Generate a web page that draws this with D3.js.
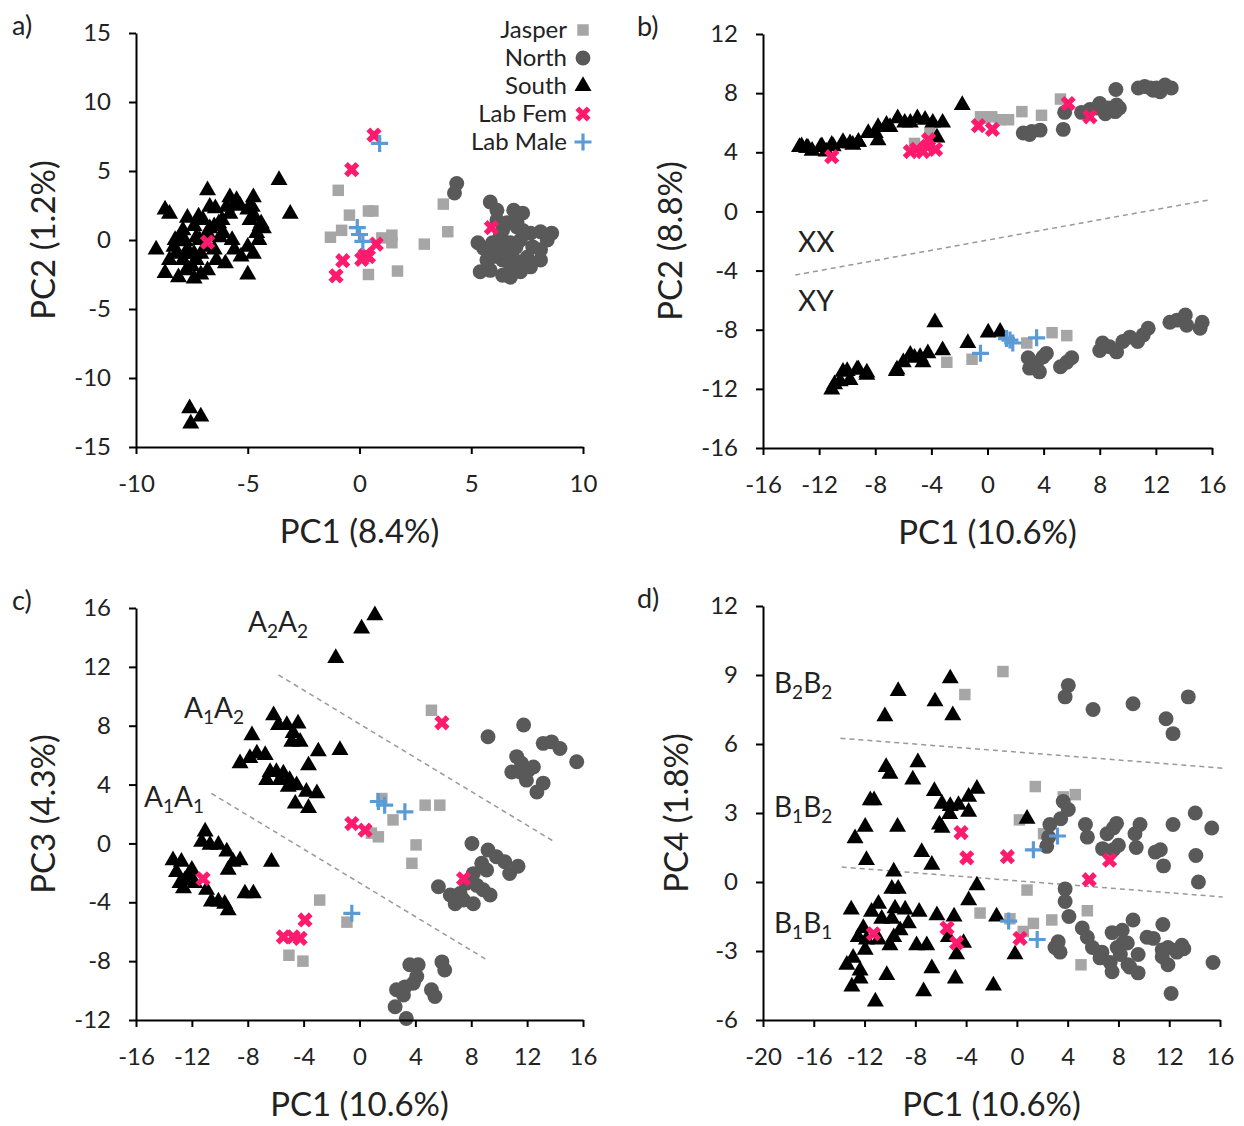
<!DOCTYPE html>
<html>
<head>
<meta charset="utf-8">
<script src="https://cdn.jsdelivr.net/npm/d3@7"></script>
<style>
  body { margin: 0; background: #fff; }
  text { font-family: Lato, "Liberation Sans", sans-serif; fill: #222; }
</style>
</head>
<body>
<div id="chart"></div>
<script>
// ---- panel a: PC1 (8.4%) vs PC2 (1.2%)
const aJasper = [[-0.95,3.6],[-0.45,1.8],[0.4,2.1],[0.6,2.1],[-0.8,0.7],[-1.3,0.2],[1.0,0.15],[1.45,0.35],[1.45,-0.2],[0.4,-2.5],[1.7,-2.25],[2.9,-0.3],[3.75,2.6],[3.95,0.6]];
const aNorth = [[4.35,4.1],[4.25,3.4],[5.85,2.75],[6.15,2.15],[6.9,2.15],[7.3,1.95],[7.05,1.3],[5.3,-0.2],[5.55,-0.6],[5.95,-0.2],[6.4,0],[6.75,-0.2],[7.2,0],[7.65,0.5],[8.1,0.6],[8.6,0.5],[8.4,0],[8.1,-0.7],[8.1,-1.45],[7.65,-1.95],[7.2,-2.3],[6.75,-2.7],[6.4,-2.55],[5.85,-2.2],[5.4,-2.3],[6.4,-1.45],[6.85,-1.2],[6.15,-0.95],[7.05,0.95],[7.3,0.7],[6.4,0.7],[6.6,1.25],[5.7,-1.45],[7.5,-1.25],[7.75,-0.5],[6.15,1.45],[6.75,-2.15],[7.2,-1.7],[6.5,-0.8],[7.0,-0.5],[6.0,-1.2],[6.9,-1.6],[6.3,0.3]];
const aSouth = [[-8.7,2.2],[-8.5,1.9],[-9.1,-0.7],[-6.8,3.6],[-7.7,1.6],[-7.2,1.7],[-7.9,0.7],[-7.4,1.0],[-8.0,0],[-8.3,-0.5],[-7.8,-0.1],[-7.3,0.2],[-8.5,-1.45],[-8.7,-2.4],[-8.1,-2.7],[-7.4,-2.8],[-7.1,-2.5],[-6.8,-2.2],[-7.7,-1.0],[-7.1,-1.0],[-6.5,-0.7],[-6.4,-1.45],[-6.0,-1.7],[-5.7,0],[-5.6,-0.7],[-5.3,-1.2],[-5.0,-0.5],[-5.0,-2.5],[-4.75,-1.0],[-4.6,0.5],[-4.45,1.0],[-4.7,1.7],[-4.75,3.1],[-4.8,2.4],[-5.0,2.2],[-5.35,2.5],[-5.8,3.1],[-5.95,2.4],[-5.5,2.9],[-6.7,2.4],[-6.45,2.3],[-6.3,1.2],[-6.15,1.45],[-6.1,0.5],[-6.25,0.2],[-6.5,1.0],[-6.8,0.5],[-7.9,-1.45],[-7.5,-1.9],[-7.3,-1.45],[-7.7,-0.7],[-8.2,-1.0],[-4.3,0.85],[-4.4,1.2],[-3.6,4.35],[-3.1,1.9],[-6.8,-0.5],[-7.15,0],[-7.0,1.45],[-6.7,0.85],[-5.8,1.9],[-5.6,2.5],[-4.9,1.45],[-4.5,0],[-7.75,-2.2],[-7.4,-1.0],[-8.25,0],[-7.6,-12.2],[-7.1,-12.8],[-7.55,-13.3]];
const aLabFem = [[0.65,7.6],[-0.35,5.1],[-0.75,-1.5],[-1.05,-2.6],[0.75,-0.3],[0.25,-1.1],[0.1,-1.4],[0.4,-1.2],[-6.8,-0.15],[5.9,0.9]];
const aLabMale = [[0.9,7.0],[-0.1,0.9],[0,0.4],[0.15,-0.1]];

// ---- panel b: PC1 (10.6%) vs PC2 (8.8%)
const bJasper = [[-5.2,4.6],[-4.1,5.3],[-0.5,6.4],[0.3,6.4],[0.9,6.2],[1.5,6.2],[2.45,6.75],[3.85,6.5],[5.2,7.6],[-0.2,6.3],[-2.9,-10.2],[-1.1,-10.0],[2.8,-8.9],[4.6,-8.2],[5.65,-8.4]];
const bNorth = [[2.55,5.3],[3.15,5.4],[3.75,5.5],[3.0,5.2],[5.4,5.55],[5.5,6.7],[6.7,6.7],[7.3,6.9],[8.0,7.3],[8.6,7.0],[9.2,7.2],[9.4,7.0],[9.1,6.75],[8.4,6.6],[7.8,7.0],[9.15,8.25],[10.75,8.35],[11.2,8.45],[11.8,8.2],[12.3,8.1],[12.65,8.55],[13.1,8.35],[11.6,8.35],[12.05,8.35],[3.0,-10.6],[3.5,-10.25],[3.95,-9.85],[4.2,-9.6],[3.7,-10.85],[5.2,-10.5],[5.65,-10.2],[6.0,-9.9],[8.0,-9.4],[8.2,-8.9],[8.7,-9.15],[9.2,-9.5],[9.65,-8.8],[10.15,-8.5],[10.7,-8.8],[11.1,-8.35],[11.45,-7.9],[13.0,-7.5],[13.5,-7.35],[14.1,-7.0],[14.2,-7.7],[15.3,-7.5],[15.15,-7.9],[2.9,-9.9]];
const bSouth = [[-13.4,4.35],[-12.8,4.3],[-11.9,4.35],[-11.1,4.5],[-10.3,4.7],[-9.8,4.6],[-9.2,4.7],[-8.5,5.3],[-8.0,5.3],[-7.8,5.7],[-7.2,5.85],[-6.4,6.3],[-5.9,6.0],[-5.0,6.3],[-4.45,6.2],[-3.9,6.0],[-3.2,6.0],[-3.6,5.0],[-1.8,7.2],[-7.8,4.8],[-6.95,5.7],[-5.5,6.0],[-13.25,4.4],[-12.9,4.3],[-12.5,4.1],[-11.8,4.4],[-11.0,4.4],[-10.3,4.6],[-9.6,4.5],[-9.2,4.7],[-11.5,4.05],[-11.1,-12.05],[-10.9,-11.7],[-10.3,-10.85],[-9.8,-11.4],[-9.2,-10.7],[-8.6,-10.9],[-10.5,-11.5],[-6.45,-10.7],[-6.0,-10.2],[-5.5,-9.7],[-5.2,-9.9],[-4.8,-9.85],[-4.25,-9.6],[-4.6,-10.2],[-3.75,-7.5],[-3.2,-9.4],[-1.4,-8.9],[0.05,-8.2],[0.9,-8.15],[-10.0,-10.8],[-9.3,-10.7],[-8.6,-11.05],[-6.5,-10.8]];
const bLabFem = [[-11.1,3.7],[-5.5,4.05],[-5.05,4.2],[-4.3,4.4],[-4.2,4.85],[-3.7,4.2],[-4.6,4.05],[-0.65,5.8],[0.35,5.55],[5.75,7.3],[7.3,6.4]];
const bLabMale = [[-0.5,-9.6],[1.35,-8.6],[1.6,-8.7],[1.8,-8.9],[3.5,-8.55]];
const bDivider = [[-13.7,-4.3],[15.9,0.8]];

// ---- panel c: PC1 (10.6%) vs PC3 (4.3%)
const cJasper = [[5.15,9.05],[1.6,3.05],[2.4,1.6],[1.35,0.45],[0.85,0.7],[4.7,2.6],[5.75,2.6],[4.05,-0.1],[3.75,-1.35],[-2.85,-3.85],[-0.9,-5.35],[-5.05,-7.6],[-4.05,-8.0]];
const cNorth = [[11.75,8.05],[9.2,7.25],[13.15,6.8],[13.75,6.9],[14.35,6.45],[15.55,5.55],[11.25,5.9],[10.9,4.85],[11.5,4.85],[12.1,5.0],[12.45,5.2],[11.95,4.3],[13.15,4.1],[12.7,3.5],[11.6,5.45],[8.05,0],[9.2,-0.45],[9.8,-0.9],[10.4,-1.25],[11.35,-1.55],[10.75,-2.05],[8.75,-1.35],[9.1,-1.8],[8.15,-2.05],[7.65,-2.7],[5.65,-2.95],[6.5,-3.5],[6.85,-4.1],[7.45,-3.85],[8.15,-4.1],[8.85,-3.15],[9.35,-3.5],[7.2,-3.4],[8.4,-2.85],[3.6,-8.25],[4.2,-8.25],[4.1,-9.05],[3.25,-9.75],[2.65,-9.95],[3.15,-10.3],[2.55,-11.1],[3.35,-11.9],[5.9,-8.05],[6.1,-8.6],[5.15,-9.95],[5.4,-10.4],[3.85,-9.5]];
const cSouth = [[1.1,15.5],[0.15,14.6],[-1.7,12.6],[-6.15,8.7],[-5.8,8.05],[-5.2,8.05],[-4.4,8.15],[-4.75,7.5],[-4.25,6.9],[-7.7,7.35],[-8.55,5.45],[-7.85,5.8],[-7.35,6.1],[-6.75,6.0],[-6.4,4.85],[-5.95,4.85],[-5.45,4.75],[-5.0,4.3],[-4.5,3.95],[-3.8,3.5],[-3.05,3.4],[-4.6,2.7],[-3.65,2.4],[-2.95,6.25],[-1.4,6.35],[-3.65,5.3],[-6.65,4.3],[-5.7,4.3],[-5.1,3.85],[-4.85,6.9],[-11.05,0.8],[-11.3,0.1],[-10.7,-0.1],[-10.1,-0.1],[-9.5,-0.55],[-9.05,-1.25],[-8.55,-1.15],[-9.4,-1.8],[-13.35,-1.15],[-12.75,-1.25],[-13.1,-1.95],[-12.85,-2.7],[-12.5,-2.5],[-12.0,-1.8],[-11.8,-2.7],[-10.95,-3.15],[-10.6,-3.95],[-10.1,-3.95],[-9.65,-4.1],[-9.4,-4.55],[-8.2,-3.4],[-7.6,-3.4],[-6.3,-1.25],[-12.25,-2.15],[-12.6,-3.05]];
const cLabFem = [[5.9,8.2],[-0.55,1.35],[0.4,0.9],[-11.2,-2.4],[-3.9,-5.2],[-5.45,-6.35],[-4.75,-6.35],[-4.25,-6.45],[7.45,-2.4]];
const cLabMale = [[1.35,2.85],[1.8,2.6],[3.25,2.15],[-0.55,-4.75]];
const cDividers = [[[-5.8,11.45],[13.8,0.2]], [[-10.6,3.4],[9.1,-7.9]]];

// ---- panel d: PC1 (10.6%) vs PC4 (1.8%)
const dJasper = [[-1.1,9.15],[-4.1,8.15],[1.45,4.15],[3.65,3.7],[4.6,3.8],[0.2,2.7],[2.1,2.1],[0.8,-0.35],[-2.9,-1.35],[-0.55,-1.6],[1.3,-1.8],[2.75,-1.65],[5.55,-1.25],[0.5,-2.15],[5.05,-3.6]];
const dNorth = [[4.05,8.55],[3.8,8.05],[6.0,7.5],[9.15,7.75],[11.75,7.1],[12.3,6.45],[13.5,8.05],[3.65,3.5],[4.05,3.15],[3.45,2.75],[2.6,2.5],[2.5,1.95],[2.35,1.55],[5.4,2.5],[5.55,1.95],[7.1,2.1],[7.6,2.35],[7.85,2.55],[6.75,1.45],[7.6,1.4],[8.0,1.6],[9.3,2.1],[9.7,2.5],[9.4,1.5],[10.9,1.3],[11.3,1.4],[11.55,0.7],[12.3,2.5],[14.05,3.0],[15.35,2.35],[14.1,1.15],[14.3,0],[3.8,-0.3],[3.8,-0.85],[4.1,-1.5],[5.15,-2.0],[5.55,-2.4],[5.95,-2.85],[6.7,-3.05],[6.55,-3.3],[7.35,-3.5],[7.5,-3.9],[7.5,-2.2],[8.3,-2.1],[9.15,-1.65],[8.35,-2.65],[8.7,-2.65],[7.9,-2.85],[8.15,-3.15],[8.75,-3.6],[9.55,-3.95],[9.55,-3.15],[10.25,-2.4],[10.75,-2.45],[11.45,-2.95],[11.5,-1.85],[11.9,-2.85],[11.9,-3.6],[12.6,-3.05],[13.0,-2.75],[11.45,-3.25],[15.45,-3.5],[12.15,-4.85],[3.25,-2.6],[3.4,-3.05],[3.0,-2.85],[8.9,-3.7],[12.6,-2.95],[13.15,-2.9]];
const dSouth = [[-5.25,8.85],[-9.35,8.3],[-6.45,7.85],[-10.4,7.2],[-5.05,7.25],[-10.3,5.0],[-10.0,4.7],[-7.8,5.2],[-8.2,4.45],[-6.5,3.95],[-5.9,3.4],[-5.25,3.3],[-4.6,3.35],[-3.8,3.7],[-3.15,4.05],[-3.8,3.05],[-5.3,2.95],[-6.1,2.5],[-5.9,2.35],[-11.55,3.55],[-11.25,3.55],[-11.95,2.4],[-12.75,1.9],[-9.4,2.4],[-11.85,0.95],[-7.5,1.3],[-6.7,0.75],[-9.7,0.45],[0.8,2.75],[-9.85,-0.3],[-9.35,-0.3],[-3.15,-0.15],[-3.8,-0.8],[-10.9,-0.95],[-13.05,-1.2],[-11.45,-1.3],[-10.65,-1.6],[-9.6,-1.15],[-8.8,-1.2],[-7.7,-1.3],[-9.85,-1.6],[-6.3,-1.45],[-4.95,-1.5],[-8.55,-1.8],[-12.5,-2.4],[-11.85,-2.5],[-10.9,-2.5],[-9.7,-2.4],[-10.0,-2.75],[-11.95,-2.95],[-7.9,-2.75],[-7.1,-2.75],[-5.4,-2.4],[-4.2,-2.65],[-4.75,-3.15],[-12.9,-3.3],[-13.4,-3.6],[-12.35,-3.85],[-12.35,-4.2],[-13.0,-4.55],[-10.25,-4.05],[-6.7,-3.75],[-4.85,-4.2],[-7.35,-4.75],[-11.15,-5.2],[-1.85,-4.5],[-0.15,-3.15],[-1.6,-1.5],[-12.1,-2.0],[-9.2,-2.1]];
const dLabFem = [[-4.4,2.15],[-3.95,1.05],[-0.75,1.1],[7.3,0.95],[5.7,0.1],[-11.3,-2.25],[-5.5,-2.0],[-4.75,-2.65],[0.25,-2.45]];
const dLabMale = [[3.2,2.0],[1.3,1.4],[-0.65,-1.7],[1.6,-2.5]];
const dDividers = [[[-13.9,6.25],[16.2,4.95]], [[-13.8,0.65],[16.2,-0.65]]];

const seriesNames = ['Jasper', 'North', 'South', 'Lab Fem', 'Lab Male'];

const width = 1244;
const height = 1126;

const svg = d3.select('#chart')
  .append('svg')
  .attr('width', width)
  .attr('height', height);

const styles = {
  'Jasper':   { fill: '#a6a6a6', sym: d3.symbol(d3.symbolSquare, 132)() },
  'North':    { fill: '#595959', sym: d3.symbol(d3.symbolCircle, 175)() },
  'South':    { fill: '#000000', sym: d3.symbol(d3.symbolTriangle, 125)() },
  'Lab Fem':  { fill: '#ff1a6e', sym: d3.symbol(d3.symbolCross, 145)(), rotate: 45 },
  'Lab Male': { stroke: '#5b9bd5', sym: 'M-8.5,0H8.5M0,-8.5V8.5' }
};

function marker(sel, name) {
  const s = styles[name];
  sel.attr('d', s.sym);
  if (s.stroke) sel.attr('fill', 'none').attr('stroke', s.stroke).attr('stroke-width', 3.2);
  else sel.attr('fill', s.fill);
}

function drawPanel(p) {
  const x = d3.scaleLinear().domain(p.xDomain).range([p.left, p.right]);
  const y = d3.scaleLinear().domain(p.yDomain).range([p.bottom, p.top]);
  const g = svg.append('g');

  // dashed dividers first, markers on top
  (p.dividers || []).forEach(l => {
    g.append('line')
      .attr('x1', x(l[0][0])).attr('y1', y(l[0][1]))
      .attr('x2', x(l[1][0])).attr('y2', y(l[1][1]))
      .attr('stroke', '#999').attr('stroke-width', 1.5)
      .attr('stroke-dasharray', '5,4');
  });

  p.series.forEach((data, i) => {
    const name = seriesNames[i];
    const rot = styles[name].rotate ? ` rotate(${styles[name].rotate})` : '';
    g.append('g').selectAll('path')
      .data(data)
      .join('path')
      .attr('transform', d => `translate(${x(d[0])},${y(d[1])})${rot}`)
      .call(marker, name);
  });

  const xAxis = g.append('g')
    .attr('transform', `translate(0,${p.bottom})`)
    .call(d3.axisBottom(x).tickValues(p.xTicks).tickFormat(d => String(d))
      .tickSizeInner(7).tickSizeOuter(0).tickPadding(21));
  const yAxis = g.append('g')
    .attr('transform', `translate(${p.left},0)`)
    .call(d3.axisLeft(y).tickValues(p.yTicks).tickFormat(d => String(d))
      .tickSizeInner(7).tickSizeOuter(0).tickPadding(18));
  [xAxis, yAxis].forEach(a => {
    a.attr('font-size', 24);
    a.selectAll('path, line').attr('stroke', '#000').attr('stroke-width', 2);
  });

  g.append('text')
    .attr('x', (p.left + p.right) / 2).attr('y', p.bottom + 96)
    .attr('text-anchor', 'middle').attr('font-size', 33)
    .text(p.xTitle);
  g.append('text')
    .attr('transform', `translate(${p.yTitleX},${(p.top + p.bottom) / 2}) rotate(-90)`)
    .attr('text-anchor', 'middle').attr('font-size', 33)
    .text(p.yTitle);
  g.append('text')
    .attr('x', p.letterX).attr('y', p.top + 2)
    .attr('font-size', 27)
    .text(p.letter);

  (p.labels || []).forEach(lb => {
    const t = g.append('text').attr('x', lb.x).attr('y', lb.y).attr('font-size', 28);
    lb.parts.forEach(part => {
      if (part.sub) {
        t.append('tspan').attr('font-size', 19).attr('dy', 6).text(part.t);
      } else {
        t.append('tspan').attr('dy', part.back ? -6 : 0).text(part.t);
      }
    });
  });

  return { x, y, g };
}

function geno(a, i, b, j) {
  return [{ t: a }, { t: i, sub: true }, { t: b, back: true }, { t: j, sub: true }];
}

drawPanel({
  letter: 'a)', letterX: 12,
  left: 136, right: 583, top: 33, bottom: 447,
  xDomain: [-10, 10], yDomain: [-15, 15],
  xTicks: [-10, -5, 0, 5, 10], yTicks: [-15, -10, -5, 0, 5, 10, 15],
  xTitle: 'PC1 (8.4%)', yTitle: 'PC2 (1.2%)', yTitleX: 55,
  series: [aJasper, aNorth, aSouth, aLabFem, aLabMale]
});

drawPanel({
  letter: 'b)', letterX: 637,
  left: 763, right: 1212, top: 34, bottom: 448,
  xDomain: [-16, 16], yDomain: [-16, 12],
  xTicks: d3.range(-16, 17, 4), yTicks: d3.range(-16, 13, 4),
  xTitle: 'PC1 (10.6%)', yTitle: 'PC2 (8.8%)', yTitleX: 682,
  dividers: [bDivider],
  labels: [
    { x: 798, y: 252, parts: [{ t: 'XX' }] },
    { x: 798, y: 311, parts: [{ t: 'XY' }] }
  ],
  series: [bJasper, bNorth, bSouth, bLabFem, bLabMale]
});

drawPanel({
  letter: 'c)', letterX: 12,
  left: 136, right: 583, top: 608, bottom: 1020,
  xDomain: [-16, 16], yDomain: [-12, 16],
  xTicks: d3.range(-16, 17, 4), yTicks: d3.range(-12, 17, 4),
  xTitle: 'PC1 (10.6%)', yTitle: 'PC3 (4.3%)', yTitleX: 55,
  dividers: cDividers,
  labels: [
    { x: 248, y: 632, parts: geno('A', '2', 'A', '2') },
    { x: 184, y: 718, parts: geno('A', '1', 'A', '2') },
    { x: 144, y: 807, parts: geno('A', '1', 'A', '1') }
  ],
  series: [cJasper, cNorth, cSouth, cLabFem, cLabMale]
});

drawPanel({
  letter: 'd)', letterX: 637,
  left: 763, right: 1220, top: 606, bottom: 1020,
  xDomain: [-20, 16], yDomain: [-6, 12],
  xTicks: d3.range(-20, 17, 4), yTicks: d3.range(-6, 13, 3),
  xTitle: 'PC1 (10.6%)', yTitle: 'PC4 (1.8%)', yTitleX: 688,
  dividers: dDividers,
  labels: [
    { x: 774, y: 693, parts: geno('B', '2', 'B', '2') },
    { x: 774, y: 817, parts: geno('B', '1', 'B', '2') },
    { x: 774, y: 933, parts: geno('B', '1', 'B', '1') }
  ],
  series: [dJasper, dNorth, dSouth, dLabFem, dLabMale]
});

// legend in panel a
const legend = svg.append('g');
seriesNames.forEach((name, i) => {
  const yy = 30 + i * 28;
  legend.append('text')
    .attr('x', 567).attr('y', yy + 8)
    .attr('text-anchor', 'end').attr('font-size', 24)
    .text(name);
  const rot = styles[name].rotate ? ` rotate(${styles[name].rotate})` : '';
  legend.append('path')
    .attr('transform', `translate(583,${yy})${rot}`)
    .call(marker, name);
});
</script>
</body>
</html>
